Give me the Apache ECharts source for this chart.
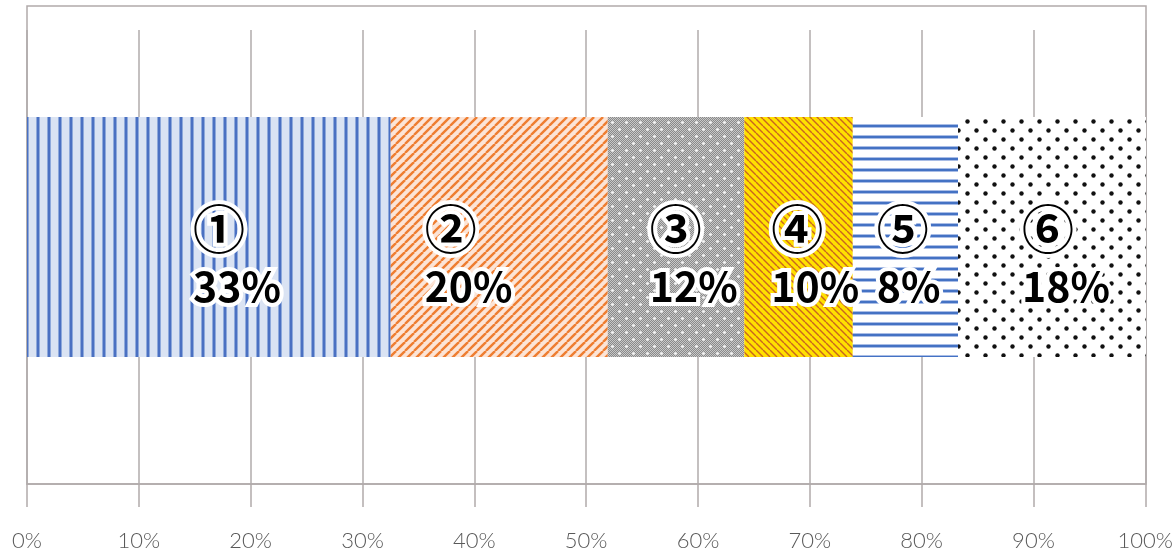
<!DOCTYPE html>
<html><head><meta charset="utf-8">
<script src="https://cdn.jsdelivr.net/npm/echarts@6/dist/echarts.min.js"></script>
<style>html,body{margin:0;padding:0;background:#fff}#c{width:1176px;height:552px}</style>
</head><body><div id="c"></div>
<script>
const categories = ['①', '②', '③', '④', '⑤', '⑥'];
const shares = [32.5, 19.4, 12.2, 9.7, 9.4, 16.8];
const shareLabels = ['33%', '20%', '12%', '10%', '8%', '18%'];
const tickLabels = ['0%', '10%', '20%', '30%', '40%', '50%', '60%', '70%', '80%', '90%', '100%'];

function tile(w, h, draw) {
  const c = document.createElement('canvas');
  c.width = w; c.height = h;
  const g = c.getContext('2d');
  draw(g, w, h);
  return { image: c, repeat: 'repeat' };
}
const patterns = [
  tile(11, 11, (g, w, h) => {
    g.fillStyle = '#dae3f3'; g.fillRect(0, 0, w, h);
    g.fillStyle = '#8ea9db'; g.fillRect(3, 0, 4, h);
    g.fillStyle = '#4a70c2'; g.fillRect(4, 0, 2, h);
  }),
  tile(9, 9, (g, w, h) => {
    g.fillStyle = '#fce4d6'; g.fillRect(0, 0, w, h);
    g.strokeStyle = '#ee7d31'; g.lineWidth = 2.4;
    for (let k = -1; k <= 1; k++) { g.beginPath(); g.moveTo(k * w, h); g.lineTo(k * w + w, 0); g.stroke(); }
  }),
  tile(14, 14, (g, w, h) => {
    for (let y = 0; y < h; y++) for (let x = 0; x < w; x++) {
      g.fillStyle = (x + y) % 2 ? '#8a8a8a' : '#c8c8c8'; g.fillRect(x, y, 1, 1);
    }
    g.fillStyle = '#ffffff';
    [[3.5, 3.5], [10.5, 10.5]].forEach(p => { g.beginPath(); g.arc(p[0], p[1], 1.3, 0, Math.PI * 2); g.fill(); });
  }),
  tile(7, 7, (g, w, h) => {
    g.fillStyle = '#ffe000'; g.fillRect(0, 0, w, h);
    g.strokeStyle = '#c9651f'; g.lineWidth = 1.4;
    for (let k = -1; k <= 1; k++) { g.beginPath(); g.moveTo(k * w, 0); g.lineTo(k * w + w, h); g.stroke(); }
  }),
  tile(11, 11, (g, w, h) => {
    g.fillStyle = '#ffffff'; g.fillRect(0, 0, w, h);
    g.fillStyle = '#a9bde6'; g.fillRect(0, 3, w, 4);
    g.fillStyle = '#4472c4'; g.fillRect(0, 4, w, 2);
  }),
  tile(18, 18, (g, w, h) => {
    g.fillStyle = '#ffffff'; g.fillRect(0, 0, w, h);
    g.fillStyle = '#111111';
    [[4.5, 4.5], [13.5, 13.5]].forEach(p => { g.beginPath(); g.arc(p[0], p[1], 2.2, 0, Math.PI * 2); g.fill(); });
  })
];
const labelShift = [161, 29, 37, 22, 19, 59];

const gray = '#b1abab';
const txt = {
  fontFamily: 'Noto Sans CJK JP', fontWeight: 'bold', color: '#000',
  textBorderColor: '#fff', textBorderWidth: 8, lineHeight: 57, align: 'left'
};

const chart = echarts.init(document.getElementById('c'));
chart.setOption({
  animation: false,
  graphic: [{
    type: 'rect', silent: true, z: -1,
    shape: { x: 27, y: 6, width: 1119, height: 478 },
    style: { fill: 'none', stroke: gray, lineWidth: 1.5 }
  }],
  grid: [
    { left: 27, right: 30, top: 30, bottom: 68 },
    { left: 27, right: 30, top: 30, bottom: 108 }
  ],
  xAxis: [
    {
      gridIndex: 0, type: 'value', min: 0, max: 100, interval: 10,
      axisLine: { show: true, lineStyle: { color: gray, width: 1.5 } },
      axisTick: { show: true, length: 23, lineStyle: { color: gray, width: 1.5 } },
      splitLine: { show: true, lineStyle: { color: gray, width: 1.5 } },
      axisLabel: {
        margin: 46, color: '#595959', fontSize: 22, fontFamily: 'Lato', fontWeight: 300,
        formatter: v => tickLabels[Math.round(v / 10)]
      }
    },
    { gridIndex: 1, type: 'value', min: 0, max: 100, show: false, splitLine: { show: false } }
  ],
  yAxis: [
    { gridIndex: 0, type: 'value', show: false, splitLine: { show: false } },
    { gridIndex: 1, type: 'category', data: ['share'], show: false }
  ],
  series: categories.map((name, i) => ({
    name, type: 'bar', stack: 'total', xAxisIndex: 1, yAxisIndex: 1,
    barWidth: 240,
    itemStyle: { color: patterns[i] },
    label: {
      show: true, position: 'insideLeft', offset: [labelShift[i], 21],
      formatter: () => '{a|' + name + '}\n{b|' + shareLabels[i] + '}',
      rich: {
        a: Object.assign({}, txt, { fontSize: 52 }),
        b: Object.assign({}, txt, { fontSize: 41 })
      }
    },
    data: [shares[i]]
  }))
});
</script></body></html>
